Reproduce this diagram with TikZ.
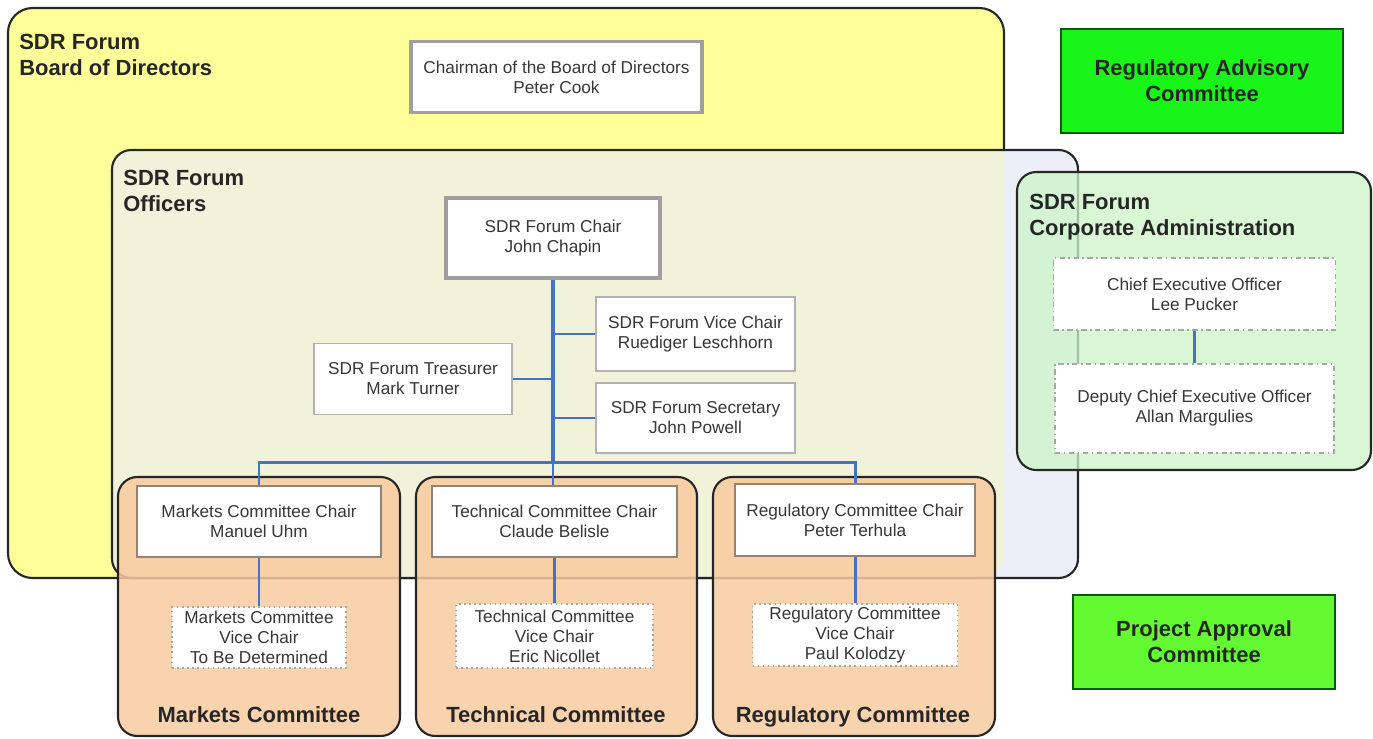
\documentclass[tikz,border=0pt]{standalone}
\usepackage{fontspec}
\setmainfont{Liberation Sans}
\definecolor{boardY}{RGB}{255,255,153}
\definecolor{offL}{RGB}{236,239,248}
\definecolor{offB}{RGB}{240,242,218}
\definecolor{corpG}{RGB}{205,245,200}
\definecolor{comO}{RGB}{249,203,160}
\definecolor{lineB}{RGB}{68,114,196}
\definecolor{txt}{RGB}{55,55,55}
\definecolor{racG}{RGB}{25,245,25}
\definecolor{pacG}{RGB}{100,250,50}
\definecolor{brownline}{RGB}{150,130,110}
\tikzset{
  sz/.style 2 args={minimum width=#1*0.02cm, minimum height=#2*0.02cm},
  wbox/.style={draw=gray!60, line width=0.9pt, fill=white, inner sep=0pt, align=center, text=txt, font=\fontsize{9.8}{11.4}\selectfont},
  thickbox/.style={wbox, draw=gray!75, line width=2.2pt},
  cchair/.style={wbox, draw=brownline, line width=1.1pt},
  vbox/.style={wbox, draw=gray!70, dotted, line width=0.8pt},
  dbox/.style={wbox, draw=gray!70, dash dot, line width=0.9pt},
  greenbox/.style={draw=green!35!black, line width=0.8pt, inner sep=0pt, align=center, font=\bfseries\fontsize{12.5}{14.8}\selectfont, text=black!85},
  lbl/.style={inner sep=0pt, align=left, anchor=north west, font=\bfseries\fontsize{12.5}{14.8}\selectfont, text=black!85},
  clbl/.style={inner sep=0pt, anchor=base, font=\bfseries\fontsize{12.5}{14.8}\selectfont, text=black!85},
  container/.style={draw=black!85, line width=1.2pt},
  trunk/.style={draw=lineB, line width=2.6pt},
  branch/.style={draw=lineB, line width=1.4pt},
}
\begin{document}
\begin{tikzpicture}[x=0.02cm,y=-0.02cm]
\useasboundingbox (0,0) rectangle (1373,738);
\fill[white] (0,0) rectangle (1373,738);
% Board of Directors
\path[container, fill=boardY, rounded corners=14pt] (8,8) rectangle (1004,578);
% Officers
\fill[offL, rounded corners=11pt] (112,150) rectangle (1078,578);
\begin{scope}
  \clip[rounded corners=14pt] (8,8) rectangle (1004,578);
  \fill[offB, rounded corners=11pt] (112,150) rectangle (1078,578);
\end{scope}
\draw[container, rounded corners=11pt] (112,150) rectangle (1078,578);
% Corporate administration
\path[container, fill=corpG, fill opacity=0.75, rounded corners=11pt] (1017,172) rectangle (1371,470);
% Committees
\path[container, fill=comO, fill opacity=0.85, rounded corners=11pt] (118,477) rectangle (400,736);
\path[container, fill=comO, fill opacity=0.85, rounded corners=11pt] (416,477) rectangle (697,736);
\path[container, fill=comO, fill opacity=0.85, rounded corners=11pt] (713,477) rectangle (995,736);

% Labels of containers
\node[lbl] (boardlbl) at (19,34) {SDR Forum\\Board of Directors};
\node[lbl] (offlbl) at (123,170) {SDR Forum\\Officers};
\node[lbl] (corplbl) at (1029,194) {SDR Forum\\Corporate Administration};
\node[clbl] (mktlbl) at (259,722) {Markets Committee};
\node[clbl] (teclbl) at (556,722) {Technical Committee};
\node[clbl] (reglbl) at (853,722) {Regulatory Committee};

% Boxes
\node[thickbox, sz={291}{71}] (chairman) at (556.5,77) {Chairman of the Board of Directors\\Peter Cook};
\node[greenbox, fill=racG, sz={282}{104}] (rac) at (1202,81) {Regulatory Advisory\\Committee};
\node[greenbox, fill=pacG, sz={262}{94}] (pac) at (1204,642) {Project Approval\\Committee};
\node[thickbox, sz={214}{80}] (chair) at (553,238) {SDR Forum Chair\\John Chapin};
\node[wbox, sz={199}{74}] (vice) at (695.5,334) {SDR Forum Vice Chair\\Ruediger Leschhorn};
\node[wbox, sz={198}{71}] (treas) at (413,379) {SDR Forum Treasurer\\Mark Turner};
\node[wbox, sz={199}{70}] (secr) at (695.5,418) {SDR Forum Secretary\\John Powell};
\node[cchair, sz={244}{71}] (mkt) at (259,521.5) {Markets Committee Chair\\Manuel Uhm};
\node[cchair, sz={245}{71}] (tec) at (554.5,521.5) {Technical Committee Chair\\Claude Belisle};
\node[cchair, sz={240}{72}] (reg) at (855,520) {Regulatory Committee Chair\\Peter Terhula};
\node[vbox, sz={174}{61}] (mktv) at (259,637.5) {Markets Committee\\Vice Chair\\To Be Determined};
\node[vbox, sz={197}{64}] (tecv) at (554.5,636) {Technical Committee\\Vice Chair\\Eric Nicollet};
\node[vbox, sz={205}{62}] (regv) at (855,635) {Regulatory Committee\\Vice Chair\\Paul Kolodzy};
\node[dbox, sz={282}{72}] (ceo) at (1194.5,294) {Chief Executive Officer\\Lee Pucker};
\node[dbox, sz={279}{89}] (dep) at (1194.5,408.5) {Deputy Chief Executive Officer\\Allan Margulies};

% Connectors
\coordinate (busL) at (259,462);
\draw[trunk] (chair.south) -- (chair.south |- busL);
\draw[branch] (vice.west) -- (vice.west -| chair.south);
\draw[branch] (treas.east) -- (treas.east -| chair.south);
\draw[branch] (secr.west) -- (secr.west -| chair.south);
\draw[branch, line width=1.7pt] (mkt.north) -- (busL) -- (busL -| reg.north) -- (reg.north);
\draw[branch, line width=1.7pt] (chair.south |- busL) -- (chair.south |- tec.north);
\draw[branch, line width=1.7pt] (mkt.south) -- (mktv.north);
\draw[branch, line width=1.7pt] (tec.south) -- (tecv.north);
\draw[branch, line width=1.7pt] (reg.south) -- (regv.north);
\draw[branch, line width=1.7pt] (ceo.south) -- (dep.north);
\end{tikzpicture}
\end{document}
